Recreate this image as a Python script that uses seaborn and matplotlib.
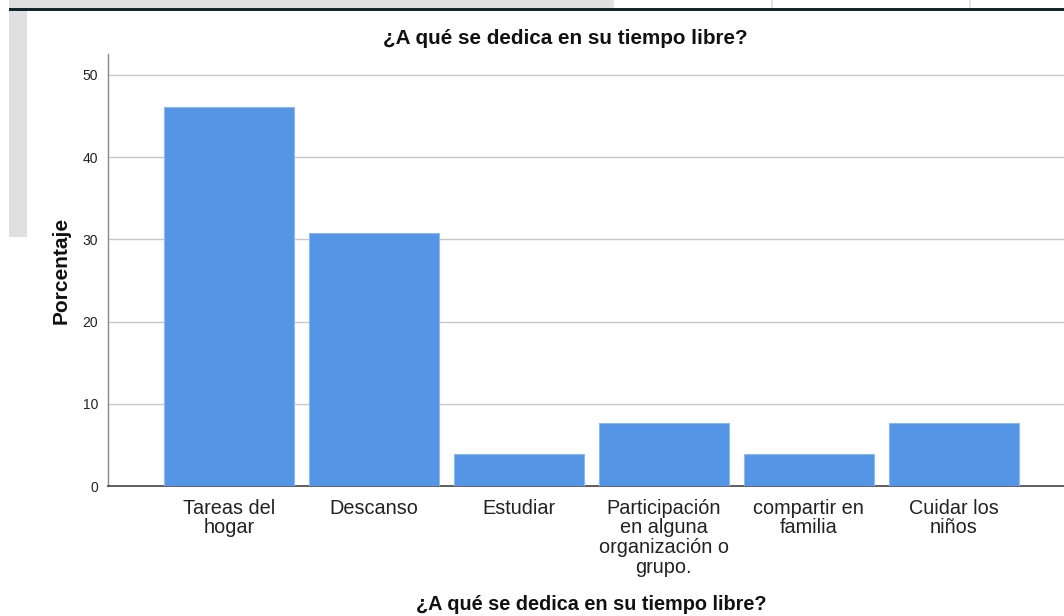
import matplotlib
matplotlib.use("Agg")
import matplotlib.pyplot as plt
import seaborn as sns
import pandas as pd
from matplotlib.patches import Rectangle

categories = ["Tareas del\nhogar", "Descanso", "Estudiar",
              "Participación\nen alguna\norganización o\ngrupo.",
              "compartir en\nfamilia", "Cuidar los\nniños"]
percentages = [46.15, 30.77, 3.85, 7.69, 3.85, 7.69]
yticks = [0, 10, 20, 30, 40, 50]
title = "¿A qué se dedica en su tiempo libre?"

sns.set_theme(style="white")
plt.rcParams['font.family'] = ['Liberation Sans', 'DejaVu Sans']

W, H = 1064, 616
fig = plt.figure(figsize=(W / 100, H / 100), dpi=100)
ax = fig.add_axes([108 / W, 1 - 486 / H, 1 - 108 / W, (486 - 54) / H])

df = pd.DataFrame({"cat": categories, "pct": percentages})
sns.barplot(data=df, x="cat", y="pct", ax=ax, color="#5595e5",
            saturation=1, width=0.897, edgecolor="#8fb8ee", linewidth=0.8,
            zorder=3)

ax.set_xlim(-0.834, 5.76)
ax.set_ylim(0, 52.55)
ax.set_yticks(yticks)
ax.set_yticklabels([str(t) for t in yticks], fontsize=10, color="#222222")
ax.yaxis.grid(True, color="#c8c8c8", linewidth=1.0, zorder=0)
ax.set_axisbelow(True)
ax.tick_params(axis="x", length=0, pad=9, labelsize=14.3, colors="#222222")
ax.tick_params(axis="y", length=0, pad=7)
for lbl in ax.get_xticklabels():
    lbl.set_linespacing(1.05)
    lbl.set_ha("center")

for s in ["top", "right"]:
    ax.spines[s].set_visible(False)
ax.spines["left"].set_color("#888888")
ax.spines["left"].set_linewidth(1.0)
ax.spines["bottom"].set_color("#444444")
ax.spines["bottom"].set_linewidth(1.2)

ax.set_xlabel("")
ax.set_ylabel("Porcentaje", fontsize=15, fontweight="bold", labelpad=9,
              color="#111111")

fig.text(565 / W, 1 - 38 / H, title, ha="center", va="center",
         fontsize=14.9, fontweight="bold", color="#111111")
fig.text(591 / W, 1 - 605 / H, title, ha="center", va="center",
         fontsize=14.3, fontweight="bold", color="#111111")

# screenshot UI artifacts
def px_rect(x0, y0, x1, y1, color):
    fig.patches.append(Rectangle((x0 / W, 1 - y1 / H), (x1 - x0) / W, (y1 - y0) / H,
                                 transform=fig.transFigure, facecolor=color,
                                 edgecolor="none", zorder=10))

px_rect(9, 0, 612, 8, "#e0e0e0")
px_rect(612, 0, 614, 8, "#e4e4e4")
px_rect(771, 0, 773, 8, "#e4e4e4")
px_rect(969, 0, 971, 8, "#e4e4e4")
px_rect(9, 8, 1064, 11, "#15262f")
px_rect(9, 11, 27, 237, "#e0e0e0")

fig.savefig("out.png", dpi=100, facecolor="white")
